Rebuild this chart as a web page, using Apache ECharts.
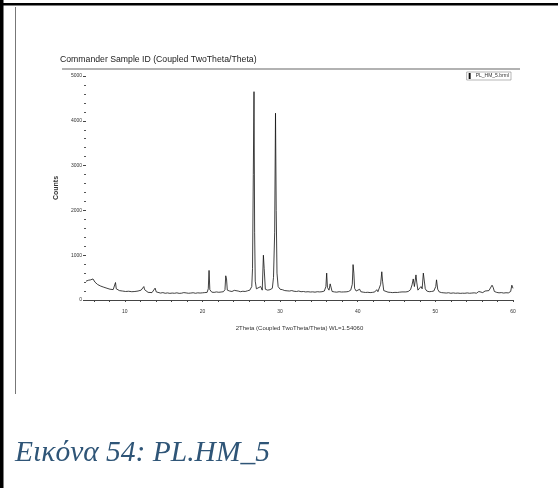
<!DOCTYPE html>
<html>
<head>
<meta charset="utf-8">
<script src="https://cdn.jsdelivr.net/npm/echarts@6/dist/echarts.min.js"></script>
<style>
  html, body { margin: 0; padding: 0; background: #fff; }
  #main { width: 558px; height: 488px; }
</style>
</head>
<body>
<div id="main"></div>
<script>
// 衍射图数据 [2θ, counts]，按角度分段
let scanLow = [
  [5.0,420],[5.15,395],[5.3,440],[5.45,410],[5.6,450],[5.75,420],[5.9,470],[6.0,440],[6.15,400],[6.3,380],
  [6.5,345],[6.7,330],[6.9,310],[7.1,300],[7.3,285],[7.5,275],[7.7,262],[7.9,255],[8.1,240],[8.3,245],
  [8.5,232],[8.7,240],[8.8,390],[8.9,250],[9.1,220],[9.3,210],[9.5,205],[9.7,200],[9.9,195],[10.1,190],
  [10.3,185],[10.5,195],[10.7,180],[10.9,185],[11.1,178],[11.3,190],[11.5,182],[11.7,200],[11.9,210],[12.1,220],
  [12.3,240],[12.45,300],[12.55,230],[12.8,190],[13.0,170],[13.2,175],[13.5,165],[13.75,170],[13.9,265],[14.05,180],
  [14.3,160],[14.6,155],[14.9,165],[15.2,150],[15.5,158],[15.8,148],[16.1,155],[16.4,150],[16.7,160],[17.0,148],
  [17.3,152],[17.6,165],[17.9,158],[18.2,150],[18.5,155],[18.8,162],[19.1,150],[19.4,160],[19.7,155],[20.0,160],
  [20.3,165],[20.6,170]
]
let scanMain = [
  [20.75,250],[20.85,660],[20.95,230],[21.2,175],[21.5,170],[21.8,180],[22.1,172],[22.4,178],[22.7,185],[22.9,230],
  [23.0,540],[23.1,470],[23.2,220],[23.5,200],[23.8,190],[24.1,215],[24.3,190],[24.6,200],[24.9,185],[25.2,195],
  [25.5,190],[25.8,205],[26.1,220],[26.35,300],[26.45,700],[26.55,2800],[26.64,4650],[26.72,1500],[26.8,420],[26.95,250],
  [27.2,230],[27.5,300],[27.7,220],[27.85,1000],[27.95,700],[28.1,240],[28.4,220],[28.7,230],[29.0,260],[29.15,500],
  [29.3,1500],[29.41,4170],[29.5,2000],[29.6,600],[29.75,300],[30.0,240],[30.3,230],[30.6,210],[30.9,205]
]
let scanMid = [
  [31.2,200],[31.5,210],[31.8,195],[32.1,190],[32.4,200],[32.7,185],[33.0,190],[33.3,180],[33.6,185],[33.9,178],
  [34.2,182],[34.5,175],[34.8,185],[35.1,180],[35.4,185],[35.7,200],[35.9,300],[36.0,600],[36.1,280],[36.3,220],
  [36.45,360],[36.55,330],[36.7,190],[37.0,180],[37.3,175],[37.6,185],[37.9,178],[38.2,180],[38.5,182],[38.8,190],
  [39.1,220],[39.3,350],[39.4,790],[39.5,600],[39.6,260],[39.8,200],[40.0,190],[40.25,240],[40.4,185],[40.7,175],
  [41.0,168],[41.3,172],[41.6,165],[41.9,170],[42.2,180],[42.45,230],[42.6,185],[42.8,200],[42.95,350],[43.1,630],
  [43.2,420],[43.35,210],[43.6,190],[43.9,175],[44.2,170],[44.5,165],[44.8,170],[45.1,168],[45.4,175]
]
let scanHigh = [
  [45.7,180],[45.8,210],[45.95,175],[46.2,180],[46.5,190],[46.8,230],[47.0,340],[47.15,470],[47.3,300],[47.5,560],
  [47.6,400],[47.75,220],[47.95,200],[48.15,300],[48.3,250],[48.45,600],[48.55,560],[48.7,250],[48.9,200],[49.2,185],
  [49.5,190],[49.8,200],[50.05,300],[50.15,450],[50.3,240],[50.5,180],[50.8,165],[51.1,160],[51.4,155],[51.7,162],
  [52.0,150],[52.3,158],[52.6,150],[52.9,155],[53.2,148],[53.5,152],[53.8,150],[54.1,158],[54.4,150],[54.7,155],
  [55.0,160],[55.3,152],[55.6,190],[55.8,160],[56.1,165],[56.4,200],[56.6,175],[56.9,210],[57.1,250],[57.3,330],
  [57.45,280],[57.6,190],[57.9,170],[58.2,160],[58.5,165],[58.8,155],[59.1,162],[59.4,158],[59.7,190],[59.85,330],
  [59.95,300],[60.0,260]
]
// 坐标刻度
let xLabels = [10, 20, 30, 40, 50, 60]
let xTicks = [6, 8, 10, 12, 14, 16, 18, 20, 22, 24, 26, 28, 30, 32, 34, 36, 38, 40, 42, 44, 46, 48, 50, 52, 54, 56, 58, 60]

let pattern = scanLow.concat(scanMain, scanMid, scanHigh)

let chart = echarts.init(document.getElementById('main'))
const option = {
  backgroundColor: '#fff',
  animation: false,
  grid: { left: 86, right: 45, top: 76, bottom: 188 },
  legend: {
    data: ['PL_HM_5.brml'],
    right: 47, top: 72,
    icon: 'rect', itemWidth: 2, itemHeight: 6, itemGap: 2,
    borderColor: '#888', borderWidth: 0.6, padding: [1, 2],
    textStyle: { fontSize: 5, color: '#333', fontFamily: 'Liberation Sans' }
  },
  xAxis: {
    type: 'value', min: 5, max: 60,
    name: '2Theta (Coupled TwoTheta/Theta) WL=1.54060',
    nameLocation: 'middle', nameGap: 23,
    nameTextStyle: { fontSize: 6, color: '#333', fontFamily: 'Liberation Sans' },
    offset: 2,
    axisLine: { show: true, lineStyle: { color: '#444', width: 1 } },
    axisTick: { show: true, length: 2, lineStyle: { color: '#444' }, customValues: xTicks },
    axisLabel: { fontSize: 5, color: '#333', margin: 7, customValues: xLabels },
    splitLine: { show: false }
  },
  yAxis: {
    type: 'value', min: 0, max: 5000, interval: 1000,
    name: 'Counts', nameLocation: 'middle', nameGap: 20, nameRotate: 90,
    nameTextStyle: { fontSize: 7, color: '#333', fontWeight: 'bold', fontFamily: 'Liberation Sans' },
    axisLine: { show: false },
    axisTick: { show: true, length: 3, lineStyle: { color: '#444' } },
    minorTick: { show: true, splitNumber: 5, length: 2, lineStyle: { color: '#555' } },
    axisLabel: { fontSize: 5, color: '#333', margin: 4, formatter: v => String(v) },
    splitLine: { show: false }
  },
  series: [{
    name: 'PL_HM_5.brml',
    type: 'line',
    data: pattern,
    showSymbol: false,
    itemStyle: { color: '#111' },
    lineStyle: { color: '#111', width: 0.8 }
  }],
  graphic: [
    // 外框
    { type: 'rect', shape: { x: 0, y: 0, width: 3.5, height: 488 }, style: { fill: '#000' } },
    { type: 'rect', shape: { x: 0, y: 3, width: 558, height: 2.5 }, style: { fill: '#000' } },
    { type: 'line', shape: { x1: 15.5, y1: 7, x2: 15.5, y2: 394 }, style: { stroke: '#777', lineWidth: 1 } },
    // 标题和分隔线
    { type: 'text', style: { x: 60, y: 60, text: 'Commander Sample ID (Coupled TwoTheta/Theta)', font: '8.7px "Liberation Sans"', fill: '#222', verticalAlign: 'middle' } },
    { type: 'line', shape: { x1: 62, y1: 69, x2: 520, y2: 69 }, style: { stroke: '#999', lineWidth: 1.3 } },
    // 图注
    { type: 'text', style: { x: 15, y: 453, text: 'Εικόνα 54: PL.HM_5', font: 'italic 29.5px "Liberation Serif"', fill: '#2f5577', verticalAlign: 'middle' } }
  ]
}
chart.setOption(option)
</script>
</body>
</html>
